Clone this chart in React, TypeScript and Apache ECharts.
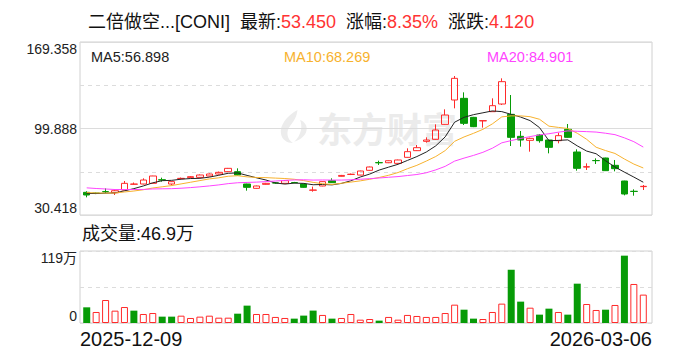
import React, { useEffect, useRef } from 'react';
import * as echarts from 'echarts';

// ---------- data ----------
const dates = [
  '2025-12-09', '2025-12-10', '2025-12-11', '2025-12-12', '2025-12-15', '2025-12-16', '2025-12-17', '2025-12-18',
  '2025-12-19', '2025-12-22', '2025-12-23', '2025-12-24', '2025-12-26', '2025-12-29', '2025-12-30', '2025-12-31',
  '2026-01-02', '2026-01-05', '2026-01-06', '2026-01-07', '2026-01-08', '2026-01-09', '2026-01-12', '2026-01-13',
  '2026-01-14', '2026-01-15', '2026-01-16', '2026-01-20', '2026-01-21', '2026-01-22', '2026-01-23', '2026-01-26',
  '2026-01-27', '2026-01-28', '2026-01-29', '2026-01-30', '2026-02-02', '2026-02-03', '2026-02-04', '2026-02-05',
  '2026-02-06', '2026-02-09', '2026-02-10', '2026-02-11', '2026-02-12', '2026-02-13', '2026-02-17', '2026-02-18',
  '2026-02-19', '2026-02-20', '2026-02-23', '2026-02-24', '2026-02-25', '2026-02-26', '2026-02-27', '2026-03-02',
  '2026-03-03', '2026-03-04', '2026-03-05', '2026-03-06',
];

const opens = [
  48.62, 47.95, 49.2, 48.3, 50.49, 55.1, 55.31, 55.85, 58.7, 55.31,
  59.6, 60.4, 60.66, 61.74, 63.34, 65.22, 65.22, 55.31, 51.83, 55.05,
  56.2, 55.85, 56.5, 55.31, 50.3, 53.71, 57.99, 61.5, 63.0, 62.5,
  66.3, 72.5, 72.4, 71.9, 76.73, 82.09, 89.58, 91.18, 103.23, 122.77,
  124.11, 108.85, 106.0, 113.4, 119.56, 111.26, 93.59, 90.38, 94.66, 90.65,
  90.11, 99.22, 81.01, 68.9, 74.2, 76.19, 70.3, 57.72, 49.45, 53.2,
];
const closes = [
  46.48, 47.82, 49.1, 49.9, 55.85, 55.3, 58.52, 61.74, 58.5, 57.19,
  59.86, 61.2, 62.54, 63.34, 64.68, 67.89, 62.54, 52.64, 53.71, 55.85,
  56.1, 57.99, 56.38, 52.64, 50.49, 57.19, 56.38, 62.2, 63.15, 65.75,
  68.97, 72.35, 74.0, 74.6, 81.28, 84.49, 90.65, 98.68, 110.73, 140.18,
  104.04, 101.36, 106.18, 118.22, 137.5, 92.79, 90.65, 91.99, 90.11, 84.76,
  94.13, 92.79, 67.89, 69.23, 74.05, 66.02, 67.63, 47.28, 49.33, 53.45,
];
const lows = [
  44.6, 47.2, 47.9, 46.5, 50.3, 54.8, 55.0, 55.6, 57.2, 54.2,
  59.2, 60.0, 60.4, 61.5, 63.0, 65.0, 62.3, 49.96, 51.5, 54.8,
  55.6, 55.6, 55.9, 52.3, 49.15, 53.5, 56.2, 61.3, 62.5, 62.3,
  66.0, 70.6, 72.1, 71.6, 76.5, 81.8, 88.51, 91.0, 103.0, 116.08,
  102.7, 101.0, 100.56, 113.2, 118.76, 85.83, 85.3, 81.28, 88.51, 79.94,
  87.97, 92.5, 66.02, 66.56, 71.37, 65.8, 65.49, 46.21, 45.94, 50.49,
];
const highs = [
  49.5, 48.4, 51.8, 51.2, 57.72, 56.5, 59.86, 61.9, 60.4, 57.5,
  60.5, 61.7, 63.0, 63.8, 65.3, 68.2, 67.89, 55.5, 54.0, 56.2,
  56.9, 58.3, 57.0, 55.6, 53.2, 57.4, 59.86, 62.6, 63.7, 66.0,
  69.3, 74.0, 74.3, 74.9, 83.96, 86.63, 92.79, 103.23, 115.28, 142.05,
  128.93, 109.2, 106.3, 124.11, 140.18, 126.79, 97.88, 92.52, 95.47, 90.9,
  96.54, 103.5, 83.15, 71.91, 75.9, 76.4, 74.59, 57.9, 51.03, 54.51,
];
// volume, unit 万
const volumes = [
  25.9, 18.2, 38, 20.4, 26.4, 20.4, 14.9, 16.5, 10.5, 10.5,
  12.1, 8.3, 10.5, 12.1, 8.8, 8.8, 15.4, 28.7, 14.9, 14.9,
  10, 8.3, 7.2, 12.2, 20.5, 13.3, 7.2, 8.3, 14.9, 5.5,
  6.6, 3.9, 10, 5.5, 13.3, 11.6, 10, 10, 16.5, 30.3,
  22, 7.2, 6.6, 18.2, 32, 88, 35.3, 25.3, 13.8, 23.7,
  18.2, 13.8, 65, 31.4, 21.5, 22, 29.8, 111.3, 64.5, 46.9,
];
// 1 = rising session (red hollow volume bar), 0 = falling session (green bar)
const volumeUp = [
  0, 1, 1, 1, 1, 0, 1, 1, 0, 0,
  1, 1, 1, 1, 1, 1, 0, 0, 1, 1,
  1, 1, 0, 0, 0, 1, 0, 1, 1, 1,
  1, 0, 1, 1, 1, 1, 1, 1, 1, 1,
  0, 0, 1, 1, 1, 0, 0, 1, 0, 0,
  1, 0, 0, 1, 1, 0, 1, 0, 1, 1,
];
// closes of the 19 sessions before the window (estimated from where the MA lines start)
const priorCloses = [58, 57, 59, 56, 55, 57, 54, 56, 55, 53, 51, 50, 49, 48, 47.5, 48.5, 47.5, 48.8, 47.6];

const priceTicks = [30.418, 99.888, 169.358];
const volTicks = [0, 119];
const volUnit = '万';
const maPeriods = [5, 10, 20];
const maLabels = ['56.898', '68.269', '84.901'];
const titleName = '二倍做空...[CONI]';
const latest = '53.450';
const pctChange = '8.35%';
const change = '4.120';
const volLabel = '46.9万';

// ---------- styles ----------
const FONT = '"Liberation Sans", Arial, "Noto Sans CJK SC", sans-serif';
const RED = '#ff2a2a';
const GREEN = '#079b07';
const MA_COLORS = ['#222222', '#f7b22e', '#ff44ff'];
const GRID_LINE = '#dcdcdc';
const BORDER = '#d0d0d0';

echarts.graphic.registerShape(
  'emLogo',
  echarts.graphic.extendPath(
    'M62 0 C30 18 8 45 12 72 C15 90 30 100 48 100 C30 88 26 66 40 48 C50 35 60 22 62 0 Z M70 30 C78 50 74 75 52 96 C80 88 96 66 88 46 C84 38 78 33 70 30 Z',
    {}
  )
);

function buildOption() {
  const allCloses = [...priorCloses, ...closes];
  const off = priorCloses.length;
  const ma = (n: number) =>
    closes.map((_, i) => {
      let s = 0;
      for (let k = off + i - n + 1; k <= off + i; k++) s += allCloses[k];
      return +(s / n).toFixed(3);
    });
  const pMin = priceTicks[0];
  const pMax = priceTicks[priceTicks.length - 1];
  const vMin = volTicks[0];
  const vMax = volTicks[volTicks.length - 1];

  const candleData = closes.map((c, i) => [opens[i], c, lows[i], highs[i]]);
  const volData = volumes.map((v, i) => ({
    value: v,
    itemStyle: volumeUp[i]
      ? { color: '#ffffff', borderColor: RED, borderWidth: 1 }
      : { color: GREEN, borderWidth: 0 },
  }));

  const mainTop = 42;
  const mainH = 173;
  const volTop = 251;
  const volH = 72;

  return {
    animation: false,
    backgroundColor: '#ffffff',
    textStyle: { fontFamily: FONT },
    grid: [
      { left: 80, top: mainTop, width: 572, height: mainH, show: true, borderColor: BORDER, borderWidth: 1, backgroundColor: 'transparent' },
      { left: 82, top: mainTop, width: 566, height: mainH },
      { left: 80, top: volTop, width: 572, height: volH, show: true, borderColor: BORDER, borderWidth: 1, backgroundColor: 'transparent' },
      { left: 82, top: volTop, width: 566, height: volH },
    ],
    xAxis: [
      { gridIndex: 0, type: 'category', data: dates, boundaryGap: false, show: false },
      { gridIndex: 1, type: 'category', data: dates, boundaryGap: true, show: false },
      {
        gridIndex: 2,
        type: 'category',
        data: dates,
        boundaryGap: false,
        axisLine: { show: false },
        axisTick: { show: false },
        splitLine: { show: false },
        axisLabel: {
          interval: (i: number) => i === 0 || i === dates.length - 1,
          alignMinLabel: 'left',
          alignMaxLabel: 'right',
          fontSize: 20,
          fontFamily: FONT,
          color: '#111',
          margin: 6,
        },
      },
      { gridIndex: 3, type: 'category', data: dates, boundaryGap: true, show: false },
    ],
    yAxis: [
      {
        gridIndex: 0,
        type: 'value',
        min: pMin,
        max: pMax,
        interval: (pMax - pMin) / 2,
        axisLine: { show: false },
        axisTick: { show: false },
        splitLine: { show: true, lineStyle: { color: GRID_LINE, width: 1 } },
        axisLabel: {
          fontSize: 14,
          fontFamily: FONT,
          color: '#222',
          margin: 3,
          formatter: (v: number) => v.toFixed(3),
          verticalAlignMinLabel: 'bottom',
          verticalAlignMaxLabel: 'top',
        },
      },
      {
        gridIndex: 0,
        type: 'value',
        min: pMin,
        max: pMax,
        interval: (pMax - pMin) / 4,
        axisLine: { show: false },
        axisTick: { show: false },
        axisLabel: { show: false },
        splitLine: { show: true, lineStyle: { color: GRID_LINE, width: 1, type: [4, 4] } },
      },
      { gridIndex: 1, type: 'value', min: pMin, max: pMax, show: false, splitLine: { show: false } },
      {
        gridIndex: 2,
        type: 'value',
        min: vMin,
        max: vMax,
        interval: (vMax - vMin) / 2,
        axisLine: { show: false },
        axisTick: { show: false },
        splitLine: { show: true, lineStyle: { color: GRID_LINE, width: 1, type: [4, 4] } },
        axisLabel: {
          fontSize: 14,
          fontFamily: FONT,
          color: '#222',
          margin: 3,
          formatter: (v: number) => (v === vMin ? String(vMin) : Math.abs(v - vMax) < 1e-6 ? `${vMax}${volUnit}` : ''),
          verticalAlignMinLabel: 'bottom',
          verticalAlignMaxLabel: 'top',
        },
      },
      { gridIndex: 3, type: 'value', min: vMin, max: vMax, show: false, splitLine: { show: false } },
    ],
    series: [
      {
        type: 'candlestick',
        xAxisIndex: 1,
        yAxisIndex: 2,
        data: candleData,
        barWidth: 7,
        itemStyle: {
          color: 'transparent',
          color0: GREEN,
          borderColor: RED,
          borderColor0: GREEN,
          borderWidth: 1,
        },
        z: 3,
      },
      ...maPeriods.map((n, k) => ({
        type: 'line',
        xAxisIndex: 1,
        yAxisIndex: 2,
        data: ma(n),
        showSymbol: false,
        symbol: 'none',
        lineStyle: { width: 1, color: MA_COLORS[k] },
        z: 4,
      })),
      {
        type: 'bar',
        xAxisIndex: 3,
        yAxisIndex: 4,
        data: volData,
        barWidth: 7,
      },
    ],
    graphic: [
      {
        type: 'emLogo',
        x: 277,
        y: 110,
        scaleX: 0.33,
        scaleY: 0.33,
        style: { fill: '#ececec' },
        z: -10,
        silent: true,
      },
      {
        type: 'text',
        x: 317,
        y: 127,
        z: -10,
        silent: true,
        style: {
          text: '东方财富',
          fill: '#ebebeb',
          font: 'bold 35px "Noto Sans CJK SC", sans-serif',
          verticalAlign: 'middle',
        },
      },
      {
        type: 'text',
        x: 88,
        y: 22,
        style: {
          text: `{n|${titleName}  最新:}{r|${latest}}{n|  涨幅:}{r|${pctChange}}{n|  涨跌:}{r|${change}}`,
          verticalAlign: 'middle',
          rich: {
            n: { fill: '#111', fontSize: 18, fontFamily: FONT },
            r: { fill: '#ff3333', fontSize: 18, fontFamily: FONT },
          },
        },
      },
      ...maLabels.map((v, k) => ({
        type: 'text',
        x: [91, 284, 487][k],
        y: 57,
        style: {
          text: `MA${maPeriods[k]}:${v}`,
          fill: MA_COLORS[k],
          font: `14.5px ${FONT}`,
          verticalAlign: 'middle',
        },
      })),
      {
        type: 'text',
        x: 82,
        y: 234,
        style: {
          text: `成交量:${volLabel}`,
          fill: '#111',
          font: `18px ${FONT}`,
          verticalAlign: 'middle',
        },
      },
    ],
  };
}

export default function App() {
  const ref = useRef<HTMLDivElement>(null);
  useEffect(() => {
    if (!ref.current) return;
    const chart = echarts.init(ref.current, null, { renderer: 'svg' });
    chart.setOption(buildOption() as any);
    return () => chart.dispose();
  }, []);
  return (
    <div
      ref={ref}
      style={{ position: 'fixed', left: 0, top: 0, width: 688, height: 360, background: '#fff' }}
    />
  );
}
